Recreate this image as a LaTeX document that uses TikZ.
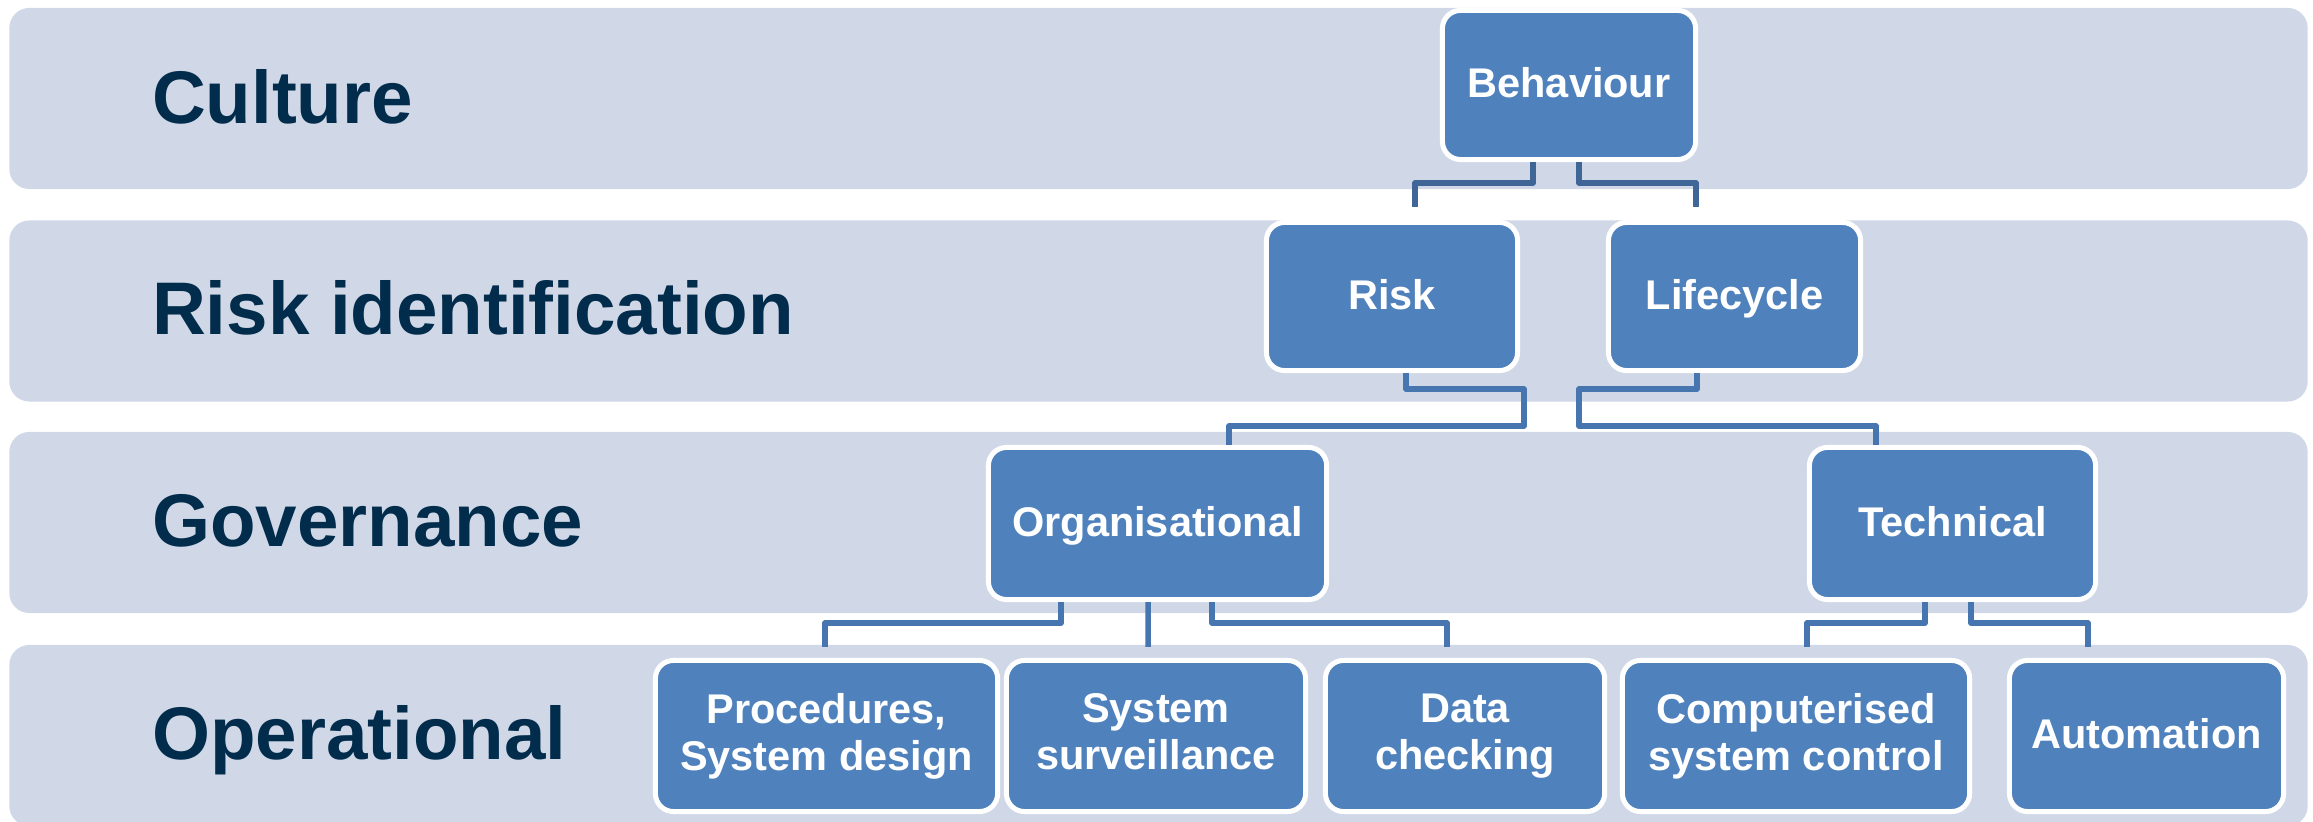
\documentclass[tikz,border=0pt]{standalone}
\usepackage{fontspec}
\setmainfont{Liberation Sans}
\usetikzlibrary{calc}
\definecolor{bandfill}{HTML}{D0D8E8}
\definecolor{boxfill}{HTML}{4F81BD}
\definecolor{labeltext}{HTML}{022C4B}
\definecolor{linkdark}{HTML}{3F6696}
\definecolor{linklight}{HTML}{4775B0}
\begin{document}
\begin{tikzpicture}[x=0.01cm,y=-0.01cm,
  band/.style={rectangle, rounded corners=0.2cm, fill=bandfill,
    minimum width=22.97cm, minimum height=1.81cm, inner sep=0pt, outer sep=0pt},
  tier/.style={anchor=west, inner sep=0pt, text=labeltext,
    font=\fontsize{21.2pt}{24pt}\selectfont\bfseries,
    text height=15.2pt, text depth=0pt},
  unit/.style={rectangle, rounded corners=0.18cm, draw=white, line width=0.05cm,
    fill=boxfill, text=white, align=center, inner sep=0pt,
    font=\fontsize{11.8pt}{13.4pt}\selectfont\bfseries},
  oneline/.style={text height=7.2pt, text depth=0pt},
  upper/.style={minimum height=1.49cm},
  lower/.style={minimum height=1.51cm},
  linkA/.style={draw=linkdark, line width=0.055cm, line join=round},
  linkB/.style={draw=linklight, line width=0.055cm, line join=round}]

  % page frame
  \fill[white] (0,0) rectangle (2313,822);
  \useasboundingbox (0,0) rectangle (2313,822);

  % horizontal tiers
  \node[band] (b1) at (1158.5,98.5) {};
  \node[band] (b2) at (1158.5,311) {};
  \node[band] (b3) at (1158.5,522.5) {};
  \node[band] (b4) at (1158.5,735.5) {};

  \node[tier] (t1) at ($(b1.west)+(142,-2)$) {Culture};
  \node[tier] (t2) at ($(b2.west)+(142,-3)$) {Risk identification};
  \node[tier] (t3) at ($(b3.west)+(142,-3)$) {Governance};
  \node[tier] (t4) at ($(b4.west)+(142,-3)$) {Operational};

  % boxes
  \node[unit, oneline, upper, minimum width=2.53cm] (behav) at (1569,85) {Behaviour};
  \node[unit, oneline, minimum width=2.51cm, minimum height=1.48cm] (risk) at (1392,296.5) {Risk};
  \node[unit, oneline, minimum width=2.52cm, minimum height=1.48cm] (life) at (1734.5,296.5) {Lifecycle};
  \node[unit, oneline, minimum width=3.38cm, minimum height=1.52cm] (org) at (1157.5,523.5) {Organisational};
  \node[unit, oneline, minimum width=2.86cm, minimum height=1.52cm] (tech) at (1952.5,523.5) {Technical};
  \node[unit, lower, minimum width=3.42cm] (proc) at (826.5,736) {Procedures,\\System design};
  \node[unit, lower, minimum width=2.99cm] (surv) at (1156,736) {System\\surveillance\vphantom{g}};
  \node[unit, lower, minimum width=2.79cm] (data) at (1465,736) {Data\\checking};
  \node[unit, lower, minimum width=3.47cm] (comp) at (1796,736) {Computerised\\system control};
  \node[unit, oneline, lower, minimum width=2.74cm] (auto) at (2146.5,736) {Automation};

  % culture -> risk identification
  \draw[linkA] ([xshift=-0.36cm]behav.south) -- ++(0,21) -| ([xshift=0.23cm,yshift=0.13cm]risk.north);
  \draw[linkA] ([xshift=0.10cm]behav.south) -- ++(0,21) -| ([xshift=-0.385cm,yshift=0.13cm]life.north);

  % risk identification -> governance
  \draw[linkB] ([xshift=0.14cm]risk.south) -- ++(0,16) -- ++(118,0) -- ++(0,37)
    -| ([xshift=0.715cm]org.north);
  \draw[linkB] ([xshift=-0.375cm]life.south) -- ++(0,16) -- ++(-118,0) -- ++(0,37)
    -| ([xshift=-0.765cm]tech.north);

  % governance -> operational
  \draw[linkB] ([xshift=-0.965cm]org.south) -- ++(0,21) -| ([xshift=-0.015cm,yshift=0.11cm]proc.north);
  \draw[linkB] ([xshift=-0.095cm]org.south) -- ([xshift=-0.08cm,yshift=0.11cm]surv.north);
  \draw[linkB] ([xshift=0.545cm]org.south) -- ++(0,21) -| ([xshift=-0.18cm,yshift=0.11cm]data.north);
  \draw[linkB] ([xshift=-0.275cm]tech.south) -- ++(0,21) -| ([xshift=0.11cm,yshift=0.11cm]comp.north);
  \draw[linkB] ([xshift=0.185cm]tech.south) -- ++(0,21) -| ([xshift=-0.585cm,yshift=0.11cm]auto.north);
\end{tikzpicture}
\end{document}
